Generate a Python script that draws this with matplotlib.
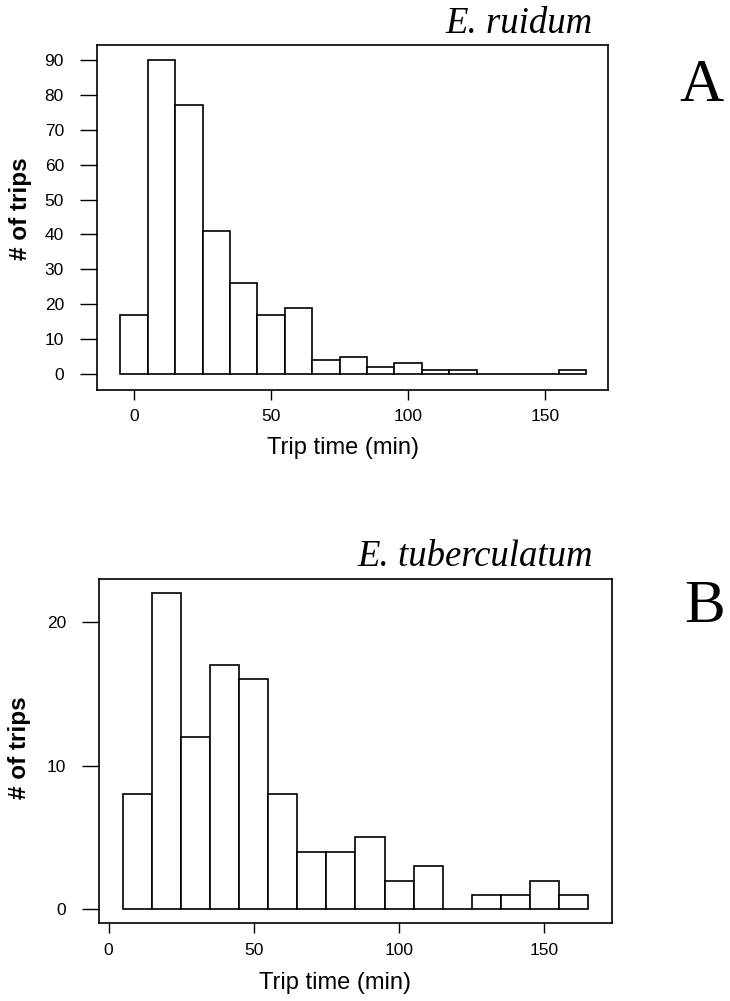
import matplotlib
matplotlib.use('Agg')
import matplotlib.pyplot as plt

# Data (bin centres and counts)
ruidum_bins = [0, 10, 20, 30, 40, 50, 60, 70, 80, 90, 100, 110, 120, 130, 140, 150, 160]
ruidum_counts = [17, 90, 77, 41, 26, 17, 19, 4, 5, 2, 3, 1, 1, 0, 0, 0, 1]
ruidum_yticks = [0, 10, 20, 30, 40, 50, 60, 70, 80, 90]

tuber_bins = [10, 20, 30, 40, 50, 60, 70, 80, 90, 100, 110, 120, 130, 140, 150, 160]
tuber_counts = [8, 22, 12, 17, 16, 8, 4, 4, 5, 2, 3, 0, 1, 1, 2, 1]
tuber_yticks = [0, 10, 20]

xticks = [0, 50, 100, 150]

sans = ['Liberation Sans', 'DejaVu Sans']
serif = ['Liberation Serif', 'DejaVu Serif']

fig = plt.figure(figsize=(7.30, 10.01), dpi=100)


def draw_hist(rect, bins, counts, yticks, xlim, ylim, xlabel_pos, ylabel_pos):
    ax = fig.add_axes(rect)
    ax.bar(bins, counts, width=10, color='white', edgecolor='black', linewidth=1.2)
    ax.set_xlim(*xlim)
    ax.set_ylim(*ylim)
    ax.set_xticks(xticks)
    ax.set_yticks(yticks)
    for s in ax.spines.values():
        s.set_linewidth(1.2)
    ax.tick_params(axis='y', direction='out', length=12, width=1, pad=12, labelsize=12.5)
    ax.tick_params(axis='x', direction='out', length=7, width=1, pad=7, labelsize=12.5)
    for lab in ax.get_xticklabels() + ax.get_yticklabels():
        lab.set_family(sans)
    ax.set_xlabel('Trip time (min)', fontsize=17, family=sans)
    ax.xaxis.set_label_coords(*xlabel_pos)
    ax.xaxis.label.set_va('center')
    ax.set_ylabel('# of trips', fontsize=17.5, fontweight='bold', family=sans)
    ax.yaxis.set_label_coords(*ylabel_pos)
    ax.yaxis.label.set_va('center')
    return ax


# Panel A
draw_hist([0.1333, 0.6104, 0.6996, 0.345], ruidum_bins, ruidum_counts, ruidum_yticks,
          (-13.4, 173), (-4.6, 94.4), (0.482, -0.168), (-0.151, 0.524))
# Panel B
draw_hist([0.136, 0.0776, 0.7019, 0.3437], tuber_bins, tuber_counts, tuber_yticks,
          (-3.2, 173.2), (-0.97, 22.95), (0.461, -0.1735), (-0.155, 0.51))

# Species titles and panel letters
fig.text(593 / 730, 1 - 33 / 1001, 'E. ruidum', ha='right', va='baseline',
         fontsize=26.5, style='italic', family=serif)
fig.text(593 / 730, 1 - 566 / 1001, 'E. tuberculatum', ha='right', va='baseline',
         fontsize=26.5, style='italic', family=serif)
fig.text(702 / 730, 1 - 86 / 1001, 'A', ha='center', va='center', fontsize=44, family=serif)
fig.text(705 / 730, 1 - 607 / 1001, 'B', ha='center', va='center', fontsize=44, family=serif)

fig.savefig('out.png', dpi=100)
